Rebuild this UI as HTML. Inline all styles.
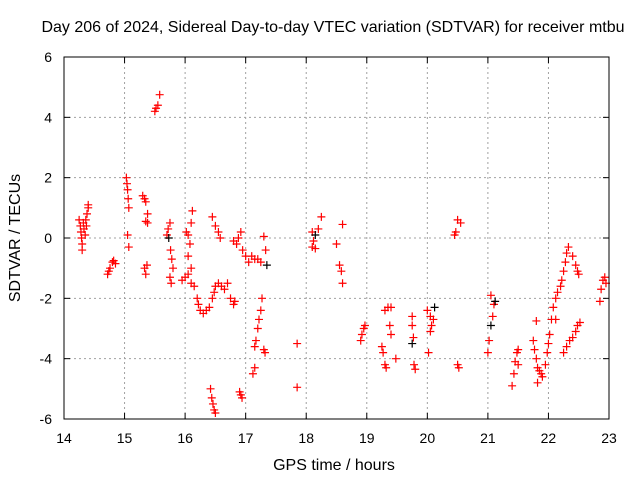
<!DOCTYPE html>
<html><head><meta charset="utf-8"><style>
body{margin:0;background:#fff;}
svg{display:block;font-family:"Liberation Sans",sans-serif;}
</style></head><body>
<svg id="chart" width="640" height="480" xmlns="http://www.w3.org/2000/svg">
<text x="333" y="32" font-size="16" text-anchor="middle">Day 206 of 2024, Sidereal Day-to-day VTEC variation (SDTVAR) for receiver mtbu</text>
<g id="grid"></g>
<g id="axes"></g>
<g id="marks"></g>
<rect x="64" y="57" width="545" height="362" fill="none" stroke="#000" stroke-width="1"/>
<text x="334" y="470" font-size="16" text-anchor="middle">GPS time / hours</text>
<text x="20" y="238" font-size="16" text-anchor="middle" transform="rotate(-90 20 238)">SDTVAR / TECUs</text>
</svg>
<script>
const xTicks=[14,15,16,17,18,19,20,21,22,23];
const yTicks=[-6,-4,-2,0,2,4,6];
const redX=[14.25,14.27,14.28,14.29,14.3,14.3,14.32,14.33,14.35,14.36,14.38,14.4,14.4,14.37,
14.72,14.74,14.76,14.8,14.82,14.85,
15.03,15.04,15.05,15.06,15.07,15.05,15.07,
15.3,15.33,15.35,15.38,15.35,15.38,15.33,15.35,15.37,
15.5,15.52,15.55,15.58,
15.7,15.72,15.75,15.76,15.78,15.8,15.75,15.77,
15.95,16.0,16.05,16.1,16.02,16.05,16.08,16.1,16.12,16.05,16.1,16.15,16.2,16.22,16.25,16.3,16.35,16.4,16.45,16.48,16.5,16.55,16.6,16.65,16.7,16.75,16.8,16.82,
16.45,16.5,16.55,16.58,
16.42,16.44,16.46,16.48,16.5,
16.8,16.85,16.88,16.92,16.95,16.9,16.92,16.94,
17.0,17.05,17.1,17.15,17.2,17.25,17.3,17.33,
17.15,17.17,17.2,17.22,17.25,17.27,17.15,17.12,17.3,17.32,
17.85,17.85,
18.1,18.12,18.2,18.25,18.1,18.15,
18.5,18.55,18.58,18.6,18.6,
18.9,18.92,18.95,18.97,
19.25,19.27,19.3,19.32,19.3,19.35,19.4,19.38,19.4,19.48,
19.75,19.75,19.77,19.78,19.8,
20.02,20.0,20.05,20.07,20.1,20.05,
20.45,20.47,20.5,20.55,20.5,20.52,
21.0,21.02,21.08,21.05,21.1,
21.4,21.43,21.45,21.48,21.5,21.5,
21.75,21.77,21.8,21.82,21.85,21.88,21.9,21.82,21.8,21.95,21.98,22.0,22.02,22.05,22.08,22.12,22.15,22.2,22.22,22.25,22.28,22.3,22.33,22.12,
22.25,22.3,22.35,22.4,22.45,22.48,22.52,
22.4,22.45,22.48,22.5,
22.85,22.87,22.9,22.93,22.95];
const redY=[0.6,0.4,0.2,0,-0.2,-0.4,0.5,0.3,0.1,0.6,0.8,1.0,1.1,0.4,
-1.2,-1.1,-1.0,-0.8,-0.75,-0.85,
2.0,1.8,1.6,1.3,1.0,0.1,-0.3,
1.4,1.3,1.2,0.8,0.55,0.5,-1.0,-1.2,-0.9,
4.2,4.3,4.4,4.75,
0.1,0.3,0.5,-0.4,-0.7,-1.0,-1.3,-1.5,
-1.4,-1.3,-1.2,-1.0,0.2,0.1,-0.2,0.5,0.9,-0.6,-1.5,-1.6,-2.0,-2.2,-2.4,-2.5,-2.4,-2.3,-2.0,-1.8,-1.6,-1.5,-1.6,-1.7,-1.5,-2.0,-2.2,-2.1,
0.7,0.4,0.2,0.0,
-5.0,-5.3,-5.5,-5.7,-5.8,
-0.1,-0.2,0.0,0.2,-0.4,-5.1,-5.2,-5.3,
-0.6,-0.8,-0.6,-0.7,-0.7,-0.8,0.05,-0.4,
-3.6,-3.4,-3.0,-2.7,-2.4,-2.0,-4.3,-4.5,-3.7,-3.8,
-3.5,-4.95,
-0.3,-0.1,0.3,0.7,0.2,-0.35,
-0.2,-0.9,-1.1,-1.5,0.45,
-3.4,-3.2,-3.0,-2.9,
-3.6,-3.8,-4.2,-4.3,-2.4,-2.3,-2.3,-2.9,-3.2,-4.0,
-2.6,-2.9,-3.3,-4.2,-4.35,
-3.8,-2.4,-2.6,-2.9,-2.7,-3.1,
0.1,0.2,0.6,0.5,-4.2,-4.3,
-3.8,-3.4,-2.6,-1.9,-2.2,
-4.9,-4.5,-4.1,-3.8,-3.7,-4.2,
-3.4,-3.7,-4.0,-4.3,-4.4,-4.5,-4.6,-4.8,-2.75,-4.2,-3.8,-3.5,-3.2,-2.7,-2.3,-2.0,-1.8,-1.6,-1.4,-1.1,-0.8,-0.5,-0.3,-2.7,
-3.8,-3.6,-3.4,-3.3,-3.1,-2.9,-2.8,
-0.6,-0.9,-1.1,-1.2,
-2.1,-1.7,-1.4,-1.3,-1.5];
const blackX=[15.73,17.35,18.15,20.12,21.05,21.12,19.75];
const blackY=[0.0,-0.9,0.1,-2.3,-2.9,-2.1,-3.5];

const X0=64,X1=609,Y0=419,Y1=57;
const sx=v=>X0+(v-14)/(23-14)*(X1-X0);
const sy=v=>Y0-(v+6)/12*(Y0-Y1);
const NS="http://www.w3.org/2000/svg";
const grid=document.getElementById('grid'),axes=document.getElementById('axes'),marks=document.getElementById('marks');
function mk(t,a,p){const e=document.createElementNS(NS,t);for(const k in a)e.setAttribute(k,a[k]);p.appendChild(e);return e;}
xTicks.forEach((t,i)=>{const x=sx(t);
 if(i>0&&i<xTicks.length-1){const g=mk('line',{x1:x,x2:x,y1:Y1,y2:Y0,stroke:'#a0a0a0','stroke-dasharray':'2,3'},grid);
 
 }
 mk('line',{x1:x,x2:x,y1:Y0,y2:Y0-6,stroke:'#000'},axes);
 mk('line',{x1:x,x2:x,y1:Y1,y2:Y1+6,stroke:'#000'},axes);
 const l=mk('text',{x:x,y:443,'font-size':14,'text-anchor':'middle'},axes);l.textContent=t;
 
 });
yTicks.forEach((t,i)=>{const y=sy(t);
 if(i>0&&i<yTicks.length-1){const g=mk('line',{x1:X0,x2:X1,y1:y,y2:y,stroke:'#a0a0a0','stroke-dasharray':'2,3'},grid);
 
 }
 mk('line',{x1:X0,x2:X0+6,y1:y,y2:y,stroke:'#000'},axes);
 mk('line',{x1:X1,x2:X1-6,y1:y,y2:y,stroke:'#000'},axes);
 const l=mk('text',{x:52,y:y+5,'font-size':14,'text-anchor':'end'},axes);l.textContent=t;
 
 });
function plus(xv,yv,c){const x=sx(xv),y=sy(yv);
 const p=mk('path',{d:`M${x-4} ${y}H${x+4}M${x} ${y-4}V${y+4}`,stroke:c,'stroke-width':1.2,fill:'none'},marks);
 
 }
redX.forEach((v,i)=>plus(v,redY[i],'#ff0000'));
blackX.forEach((v,i)=>plus(v,blackY[i],'#000000'));
</script>
</body></html>
